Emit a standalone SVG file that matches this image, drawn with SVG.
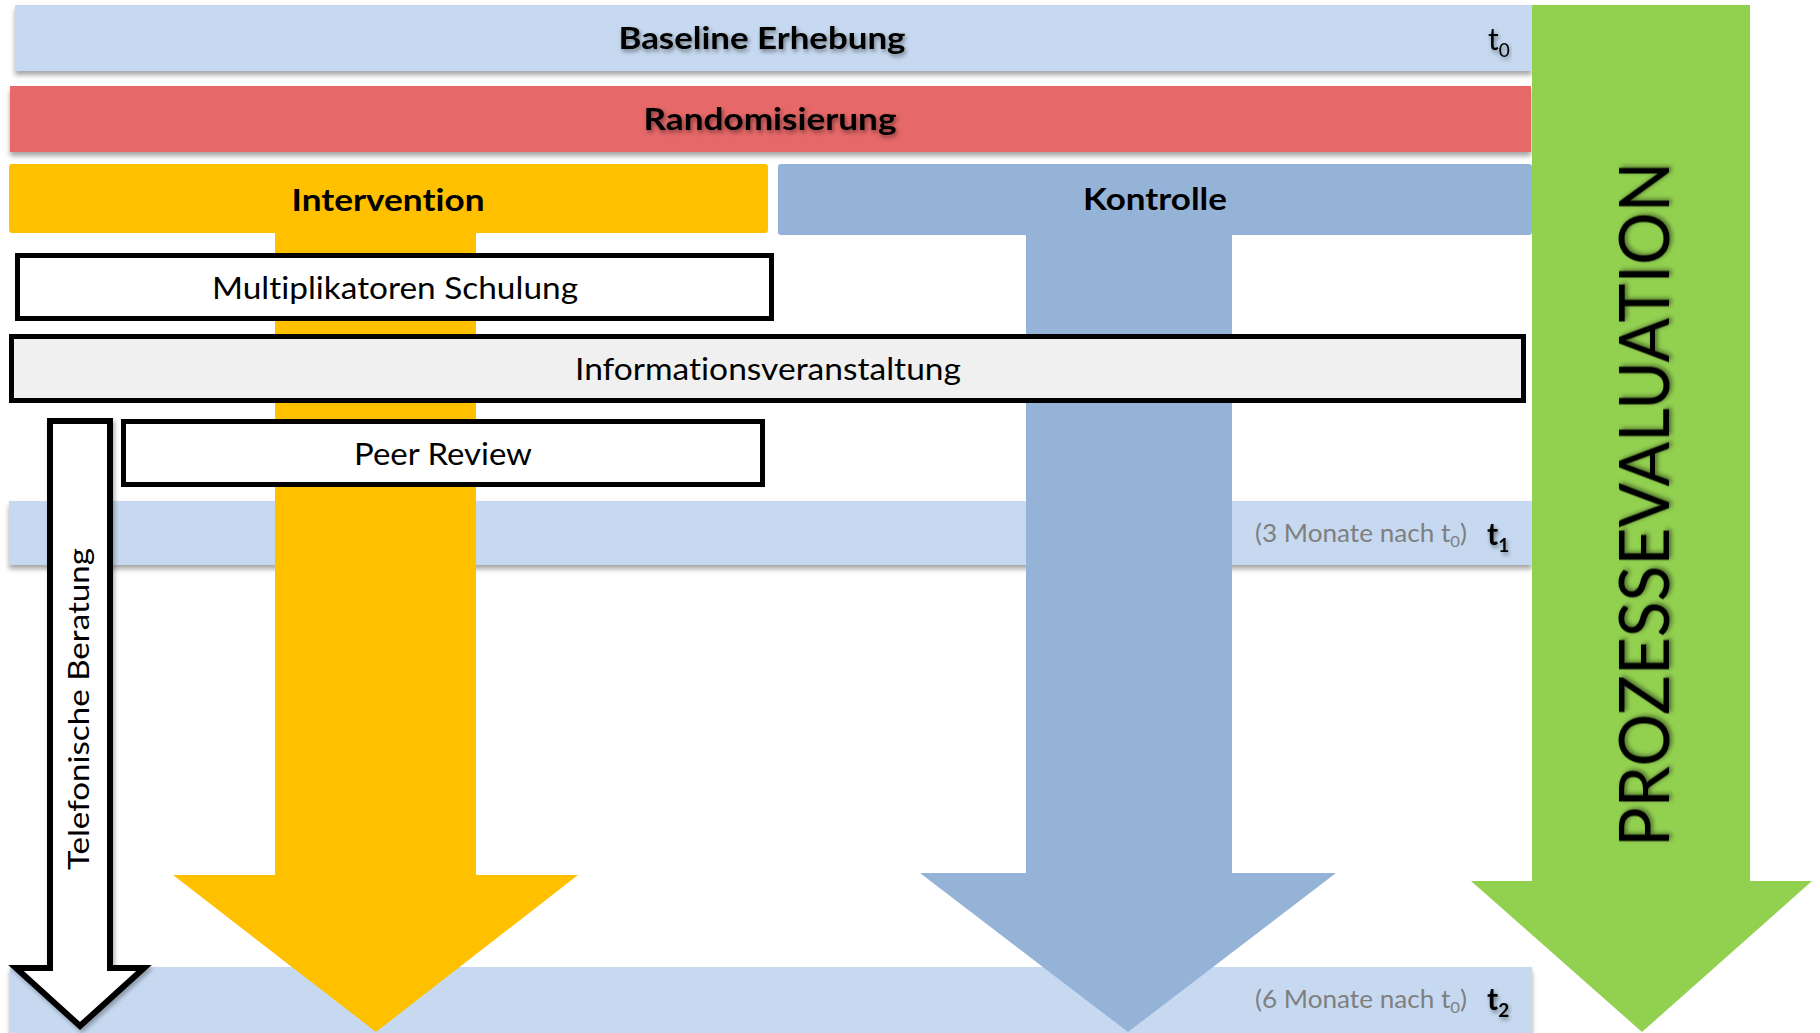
<svg xmlns="http://www.w3.org/2000/svg" width="1820" height="1033" viewBox="0 0 1820 1033">
<defs>
<style>
.t{font-family:Lato,"Open Sans","Liberation Sans",sans-serif;fill:#000;font-variant-ligatures:none;font-feature-settings:"liga" 0}
.b{font-weight:bold;font-size:31px}
.r{font-size:31px}
.g{font-size:25px;fill:#7f7f7f}
.tt{font-size:30px}
.sub{font-size:19px}
.box{stroke:#000;stroke-width:5}
</style>
<filter id="barShadow" x="-5%" y="-30%" width="110%" height="170%">
<feDropShadow dx="0" dy="4" stdDeviation="2.5" flood-color="#000" flood-opacity="0.35"/>
</filter>
<filter id="textShadow" x="-10%" y="-30%" width="120%" height="170%">
<feDropShadow dx="1.5" dy="2.5" stdDeviation="2" flood-color="#000" flood-opacity="0.45"/>
</filter>
<filter id="softShadow" x="-20%" y="-10%" width="140%" height="120%">
<feDropShadow dx="2" dy="3" stdDeviation="2" flood-color="#000" flood-opacity="0.3"/>
</filter>
</defs>
<rect width="1820" height="1033" fill="#fff"/>

<g id="baseline">
<rect x="15" y="5" width="1517" height="66" fill="#c6d9f0" filter="url(#barShadow)"/>
<text class="t b" x="762" y="49" text-anchor="middle" textLength="287" lengthAdjust="spacingAndGlyphs" filter="url(#textShadow)">Baseline Erhebung</text>
<text class="t tt" x="1488" y="50" filter="url(#textShadow)">t<tspan class="sub" dy="7">0</tspan></text>
</g>

<g id="randomisierung">
<rect x="10" y="86" width="1521" height="66" fill="#e66767" filter="url(#barShadow)"/>
<text class="t b" x="770" y="130" text-anchor="middle" textLength="253" lengthAdjust="spacingAndGlyphs" filter="url(#textShadow)">Randomisierung</text>
</g>

<g id="t1">
<rect x="9" y="501" width="1523" height="64" fill="#c6d9f0" filter="url(#barShadow)"/>
<text class="t g" x="1255" y="542" textLength="212" lengthAdjust="spacingAndGlyphs">(3 Monate nach t<tspan font-size="16" dy="5">0</tspan><tspan dy="-5">)</tspan></text>
<text class="t tt" x="1487" y="545" font-weight="bold" filter="url(#textShadow)">t<tspan class="sub" dy="7">1</tspan></text>
</g>

<g id="t2">
<rect x="10" y="967" width="1522" height="66" fill="#c6d9f0" filter="url(#barShadow)"/>
<text class="t g" x="1255" y="1008" textLength="212" lengthAdjust="spacingAndGlyphs">(6 Monate nach t<tspan font-size="16" dy="5">0</tspan><tspan dy="-5">)</tspan></text>
<text class="t tt" x="1487" y="1010" font-weight="bold" filter="url(#textShadow)">t<tspan class="sub" dy="7">2</tspan></text>
</g>

<g id="connectors">
<path id="arrow-prozess" d="M1532,5 L1750,5 L1750,881 L1812,881 L1642,1032 L1471,881 L1532,881 Z" fill="#92d050"/>
<path id="arrow-intervention" d="M275,233 L476,233 L476,875 L578,875 L376,1032 L173,875 L275,875 Z" fill="#ffc000"/>
<path id="arrow-kontrolle" d="M1026,235 L1232,235 L1232,873 L1336,873 L1128,1032 L920,873 L1026,873 Z" fill="#95b3d7"/>
</g>

<g id="intervention">
<rect x="9" y="164" width="759" height="69" rx="3" fill="#ffc000"/>
<text class="t b" x="388" y="211" text-anchor="middle" textLength="193" lengthAdjust="spacingAndGlyphs">Intervention</text>
</g>

<g id="kontrolle">
<rect x="778" y="164" width="754" height="71" rx="3" fill="#95b3d7"/>
<text class="t b" x="1155" y="210" text-anchor="middle" textLength="144" lengthAdjust="spacingAndGlyphs">Kontrolle</text>
</g>

<g id="multiplikatoren">
<rect class="box" x="17.5" y="255.5" width="754" height="63" fill="#fff"/>
<text class="t r" x="395" y="299" text-anchor="middle" textLength="366" lengthAdjust="spacingAndGlyphs">Multiplikatoren Schulung</text>
</g>

<g id="informationsveranstaltung">
<rect class="box" x="11.5" y="336.5" width="1512" height="64" fill="#f0f0f0"/>
<text class="t r" x="768" y="380" text-anchor="middle" textLength="386" lengthAdjust="spacingAndGlyphs">Informationsveranstaltung</text>
</g>

<g id="peer-review">
<rect class="box" x="123.5" y="421.5" width="639" height="63" fill="#fff"/>
<text class="t r" x="443" y="465" text-anchor="middle" textLength="178" lengthAdjust="spacingAndGlyphs">Peer Review</text>
</g>

<g id="telefonische-beratung">
<path d="M50,421 L110,421 L110,968 L144,968 L80,1026 L16,968 L50,968 Z" fill="#fff" stroke="#000" stroke-width="6" filter="url(#softShadow)"/>
<text class="t" font-size="29" transform="translate(89,709) rotate(-90)" text-anchor="middle" textLength="322" lengthAdjust="spacingAndGlyphs">Telefonische Beratung</text>
</g>

<g id="prozessevaluation">
<text class="t" font-size="70" transform="translate(1669,504.5) rotate(-90)" text-anchor="middle" textLength="685" lengthAdjust="spacingAndGlyphs" filter="url(#textShadow)">PROZESSEVALUATION</text>
</g>
</svg>
